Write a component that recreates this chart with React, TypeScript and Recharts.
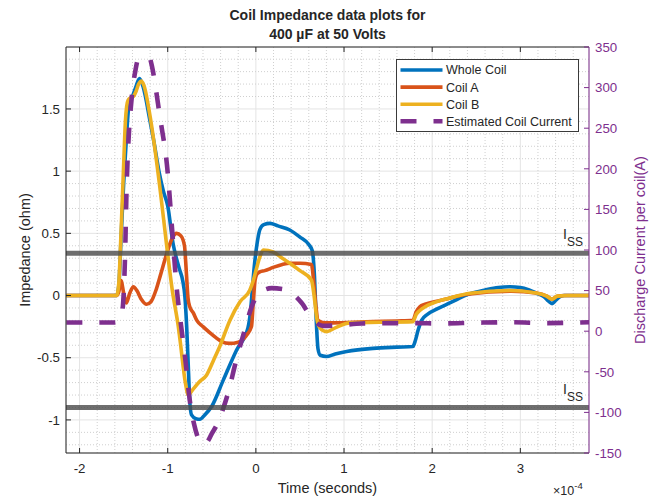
import React from 'react';
import { ComposedChart, Line, XAxis, YAxis, CartesianGrid, ReferenceLine, Legend, Label } from 'recharts';

const FONT = '"Liberation Sans", Arial, Helvetica, sans-serif';
const INK = '#262626';
const BLUE = '#0072BD';
const ORANGE = '#D95319';
const YELLOW = '#EDB120';
const PURPLE = '#7E2F8E';

// time is in units of 1e-4 s (the axis shows x10^-4)
const X_DOMAIN: [number, number] = [-2.154, 3.779];
const Z_DOMAIN: [number, number] = [-1.266, 1.998];
const I_DOMAIN: [number, number] = [-150, 350];
const X_TICKS = [-2, -1, 0, 1, 2, 3];
const Z_TICKS = [-1, -0.5, 0, 0.5, 1, 1.5];
const I_TICKS = [-150, -100, -50, 0, 50, 100, 150, 200, 250, 300, 350];
const ISS_LEVELS = [96, -94];

const wholeT = [-2.15, -1.58, -1.555, -1.53, -1.5, -1.47, -1.44, -1.4, -1.36, -1.32, -1.28, -1.2, -1.16, -1.1, -1.05, -1.0, -0.94, -0.87, -0.83, -0.805, -0.785, -0.765, -0.75, -0.73, -0.68, -0.635, -0.58, -0.5, -0.37, -0.22, -0.09, -0.06, -0.04, -0.02, 0.008, 0.045, 0.09, 0.16, 0.25, 0.385, 0.5, 0.6, 0.64, 0.665, 0.685, 0.705, 0.73, 0.8, 0.9, 1.03, 1.33, 1.6, 1.78, 1.81, 1.84, 1.88, 1.95, 2.05, 2.2, 2.43, 2.6, 2.75, 2.88, 3.0, 3.1, 3.18, 3.27, 3.32, 3.36, 3.4, 3.45, 3.5, 3.78];
const wholeZ = [0, 0, 0.08, 0.45, 0.9, 1.25, 1.53, 1.6, 1.68, 1.745, 1.68, 1.4, 1.25, 1.0, 0.84, 0.72, 0.42, 0.22, 0.12, -0.01, -0.25, -0.6, -0.85, -0.96, -0.99, -0.995, -0.96, -0.89, -0.68, -0.44, -0.26, -0.12, 0.05, 0.22, 0.39, 0.53, 0.57, 0.58, 0.56, 0.527, 0.47, 0.41, 0.36, 0.15, -0.2, -0.43, -0.48, -0.49, -0.47, -0.45, -0.425, -0.415, -0.41, -0.36, -0.28, -0.2, -0.15, -0.11, -0.06, 0.015, 0.045, 0.065, 0.07, 0.065, 0.045, 0.02, -0.01, -0.045, -0.065, -0.04, -0.01, 0, 0];

const coilAT = [-2.15, -1.58, -1.555, -1.53, -1.5, -1.47, -1.43, -1.39, -1.35, -1.3, -1.24, -1.19, -1.13, -1.08, -1.01, -0.95, -0.9, -0.85, -0.81, -0.79, -0.77, -0.75, -0.71, -0.67, -0.6, -0.52, -0.45, -0.39, -0.3, -0.2, -0.107, -0.05, -0.03, -0.01, 0.01, 0.045, 0.1, 0.196, 0.3, 0.385, 0.5, 0.63, 0.655, 0.68, 0.706, 0.78, 0.876, 1.1, 1.33, 1.6, 1.78, 1.82, 1.86, 1.92, 2.09, 2.4, 2.9, 3.18, 3.3, 3.36, 3.42, 3.5, 3.78];
const coilAZ = [0, 0, 0.03, 0.12, 0.02, -0.06, 0.02, 0.07, 0.04, -0.03, -0.07, -0.05, 0.05, 0.17, 0.34, 0.46, 0.5, 0.48, 0.4, 0.2, -0.02, -0.09, -0.14, -0.2, -0.25, -0.3, -0.34, -0.37, -0.385, -0.375, -0.32, -0.25, -0.06, 0.12, 0.17, 0.19, 0.2, 0.226, 0.25, 0.26, 0.26, 0.25, 0.12, -0.08, -0.2, -0.22, -0.22, -0.215, -0.21, -0.205, -0.2, -0.13, -0.09, -0.07, -0.04, 0.01, 0.035, 0.02, -0.005, -0.03, -0.005, 0, 0];

const coilBT = [-2.15, -1.58, -1.555, -1.53, -1.5, -1.48, -1.466, -1.45, -1.42, -1.39, -1.36, -1.33, -1.3, -1.27, -1.2, -1.09, -1.01, -0.95, -0.88, -0.86, -0.8, -0.767, -0.72, -0.635, -0.56, -0.48, -0.41, -0.295, -0.18, -0.068, -0.03, 0.008, 0.045, 0.083, 0.196, 0.3, 0.385, 0.5, 0.63, 0.66, 0.69, 0.726, 0.8, 0.9, 1.066, 1.4, 1.78, 1.82, 1.86, 1.92, 2.01, 2.2, 2.43, 2.88, 3.18, 3.3, 3.36, 3.42, 3.53, 3.78];
const coilBZ = [0, 0, 0.1, 0.5, 1.05, 1.4, 1.52, 1.57, 1.59, 1.6, 1.64, 1.7, 1.725, 1.69, 1.44, 0.875, 0.39, 0.05, -0.25, -0.36, -0.7, -0.8, -0.76, -0.69, -0.64, -0.52, -0.41, -0.2, -0.05, 0.044, 0.12, 0.22, 0.31, 0.366, 0.35, 0.3, 0.26, 0.2, 0.125, 0.0, -0.18, -0.26, -0.29, -0.26, -0.22, -0.215, -0.21, -0.15, -0.12, -0.09, -0.06, -0.02, 0.018, 0.04, 0.02, -0.005, -0.03, -0.005, 0, 0];

const currentT = [-2.15, -1.6, -1.56, -1.52, -1.485, -1.466, -1.45, -1.41, -1.36, -1.32, -1.27, -1.21, -1.18, -1.09, -1.0, -0.95, -0.9, -0.85, -0.8, -0.75, -0.7, -0.65, -0.6, -0.55, -0.5, -0.446, -0.37, -0.295, -0.24, -0.144, -0.03, 0.045, 0.18, 0.3, 0.42, 0.518, 0.63, 0.76, 0.95, 1.2, 1.5, 1.8, 2.1, 2.5, 2.9, 3.3, 3.78];
const currentI = [10.7, 10.7, 12, 21, 89, 179, 224, 286, 325, 343, 362, 340, 327, 265, 195, 125, 55, 8, -35, -85, -115, -133, -139, -136, -126, -116, -95, -68, -43, -5, 35, 47.6, 53, 52, 45.6, 35, 16.8, 6.5, 7.4, 9.5, 9.9, 9.9, 9.5, 10.5, 11, 10, 11];

const pts = (ts: number[], vs: number[]) => ts.map((t, i) => ({ t, v: vs[i] }));
const wholeData = pts(wholeT, wholeZ);
const coilAData = pts(coilAT, coilAZ);
const coilBData = pts(coilBT, coilBZ);
const currentData = pts(currentT, currentI);

const SERIES = [
  { name: 'Whole Coil', color: BLUE, width: 3.6, dash: undefined as string | undefined },
  { name: 'Coil A', color: ORANGE, width: 3.6, dash: undefined },
  { name: 'Coil B', color: YELLOW, width: 3.6, dash: undefined },
  { name: 'Estimated Coil Current', color: PURPLE, width: 4.6, dash: '16 17' },
];

// minor grid: every 0.2 on time, every 0.1 on impedance
const xMinor: number[] = [];
for (let k = -10; k <= 18; k++) if (k % 5 !== 0) xMinor.push(+(k * 0.2).toFixed(1));
const yMinor: number[] = [];
for (let k = -12; k <= 19; k++) if (k % 5 !== 0) yMinor.push(+(k * 0.1).toFixed(1));

const tickStyle = { fill: INK, fontSize: 13.3, fontFamily: FONT };

const NoTick = () => <g />;

const ChartTitle = ({ viewBox }: any) => {
  const cx = viewBox.x + viewBox.width / 2;
  return (
    <g>
      <text x={cx} y={20} textAnchor="middle" fontFamily={FONT} fontSize={14} fontWeight="bold" fill={INK}>Coil Impedance data plots for</text>
      <text x={cx} y={39} textAnchor="middle" fontFamily={FONT} fontSize={14} fontWeight="bold" fill={INK}>400 µF at 50 Volts</text>
    </g>
  );
};

const TimeLabel = ({ viewBox }: any) => (
  <g>
    <text x={viewBox.x + viewBox.width / 2} y={viewBox.y + 39.5} textAnchor="middle" fontFamily={FONT} fontSize={14.5} fill={INK}>Time (seconds)</text>
    <text x={viewBox.x + viewBox.width - 36} y={viewBox.y + 42} fontFamily={FONT} fontSize={12.5} fill={INK}>
      ×10<tspan dy={-6} fontSize={9.5}>-4</tspan>
    </text>
  </g>
);

const LeftLabel = ({ viewBox }: any) => {
  const x = viewBox.x + 14;
  const y = viewBox.y + viewBox.height / 2;
  return (
    <text x={x} y={y} transform={`rotate(-90, ${x}, ${y})`} textAnchor="middle" fontFamily={FONT} fontSize={14.5} fill={INK}>Impedance (ohm)</text>
  );
};

const RightLabel = ({ viewBox }: any) => {
  const x = viewBox.x + 56;
  const y = viewBox.y + viewBox.height / 2;
  return (
    <text x={x} y={y} transform={`rotate(-90, ${x}, ${y})`} textAnchor="middle" fontFamily={FONT} fontSize={14.5} fill={PURPLE}>Discharge Current per coil(A)</text>
  );
};

const IssMark = ({ viewBox }: any) => (
  <text x={viewBox.x + viewBox.width - 26} y={viewBox.y - 14} fontFamily={FONT} fontSize={14} fill={INK}>
    I<tspan dy={7} fontSize={12}>SS</tspan>
  </text>
);

const renderLegend = () => (
  <svg width={184} height={74} style={{ display: 'block' }}>
    <rect x={0.5} y={0.5} width={182} height={72} fill="#fff" stroke="#3a3a3a" strokeWidth={1} />
    {SERIES.map((s, i) => {
      const y = 11 + i * 17.1;
      return (
        <g key={s.name}>
          <line x1={4.5} x2={46.5} y1={y} y2={y} stroke={s.color} strokeWidth={s.width} strokeDasharray={s.dash} />
          <text x={50} y={y + 4.4} fontFamily={FONT} fontSize={12.5} fill={INK}>{s.name}</text>
        </g>
      );
    })}
  </svg>
);

export default function App() {
  return (
    <div style={{ position: 'absolute', left: 0, top: 0, background: '#fff' }}>
      <ComposedChart width={657} height={498} margin={{ top: 46, right: 18, bottom: 15, left: 16 }}>
        <CartesianGrid xAxisId="main" yAxisId="left" stroke="#e4e4e4" />
        {xMinor.map((x) => (
          <ReferenceLine key={'mx' + x} xAxisId="main" yAxisId="left" x={x} stroke="#cfcfcf" strokeDasharray="1 2" />
        ))}
        {yMinor.map((y) => (
          <ReferenceLine key={'my' + y} xAxisId="main" yAxisId="left" y={y} stroke="#cfcfcf" strokeDasharray="1 2" />
        ))}
        <XAxis xAxisId="main" dataKey="t" type="number" domain={X_DOMAIN} allowDataOverflow ticks={X_TICKS}
          height={30} tickSize={-5} tickMargin={16} stroke={INK} tick={tickStyle}>
          <Label content={TimeLabel} />
        </XAxis>
        <XAxis xAxisId="top" orientation="top" dataKey="t" type="number" domain={X_DOMAIN} allowDataOverflow ticks={X_TICKS}
          height={1} tickSize={-5} tick={NoTick} stroke={INK}>
          <Label content={ChartTitle} />
        </XAxis>
        <YAxis yAxisId="left" type="number" domain={Z_DOMAIN} allowDataOverflow ticks={Z_TICKS}
          width={50} tickSize={-5} tickMargin={11} stroke={INK} tick={tickStyle}>
          <Label content={LeftLabel} />
        </YAxis>
        <YAxis yAxisId="right" orientation="right" type="number" domain={I_DOMAIN} allowDataOverflow ticks={I_TICKS}
          width={50} tickSize={-5} tickMargin={11} stroke={PURPLE} tick={{ ...tickStyle, fill: PURPLE }}>
          <Label content={RightLabel} />
        </YAxis>
        <Line xAxisId="main" yAxisId="left" data={wholeData} dataKey="v" name="Whole Coil" type="monotone"
          stroke={BLUE} strokeWidth={3.6} strokeLinejoin="round" dot={false} activeDot={false} isAnimationActive={false} />
        <Line xAxisId="main" yAxisId="left" data={coilAData} dataKey="v" name="Coil A" type="monotone"
          stroke={ORANGE} strokeWidth={3.6} strokeLinejoin="round" dot={false} activeDot={false} isAnimationActive={false} />
        <Line xAxisId="main" yAxisId="left" data={coilBData} dataKey="v" name="Coil B" type="monotone"
          stroke={YELLOW} strokeWidth={3.6} strokeLinejoin="round" dot={false} activeDot={false} isAnimationActive={false} />
        <Line xAxisId="main" yAxisId="right" data={currentData} dataKey="v" name="Estimated Coil Current" type="monotone"
          stroke={PURPLE} strokeWidth={4.6} strokeDasharray="16 17" dot={false} activeDot={false} isAnimationActive={false} />
        {ISS_LEVELS.map((lvl) => (
          <ReferenceLine key={'iss' + lvl} xAxisId="main" yAxisId="right" y={lvl} stroke="#4a4a4a" strokeOpacity={0.8} strokeWidth={5}>
            <Label content={IssMark} />
          </ReferenceLine>
        ))}
        <Legend layout="vertical" align="center" verticalAlign="middle" content={renderLegend}
          wrapperStyle={{ left: 396, top: 59, width: 184, height: 74 }} />
      </ComposedChart>
    </div>
  );
}
